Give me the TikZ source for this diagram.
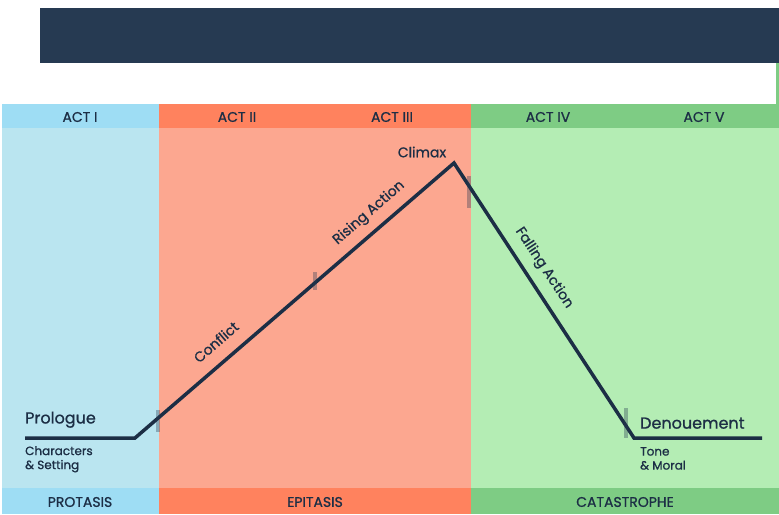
\documentclass[tikz,border=0pt]{standalone}
\usepackage{fontspec}
\setmainfont{Poppins}[UprightFeatures={FakeBold=0.9}]
\definecolor{navy}{HTML}{263A52}
\definecolor{ink}{HTML}{1C2E45}
\definecolor{blueHead}{HTML}{9EDDF4}
\definecolor{blueBody}{HTML}{BAE5F0}
\definecolor{redHead}{HTML}{FF825E}
\definecolor{redBody}{HTML}{FCA790}
\definecolor{greenHead}{HTML}{7ECC84}
\definecolor{greenBody}{HTML}{B4EDB4}
\tikzset{
  headtext/.style={text=ink, font=\fontsize{14}{14}\selectfont},
  labeltext/.style={text=ink, font=\fontsize{16}{16}\selectfont},
  slanttext/.style={text=ink, font=\fontsize{14}{14}\selectfont},
  smalltext/.style={text=ink, align=left, font=\fontsize{12}{14}\selectfont},
  marker/.style={fill=navy, opacity=0.35},
}
\begin{document}
\begin{tikzpicture}[x=1pt,y=-1pt]
	\useasboundingbox (0,0) rectangle (779,514);
	% Title bar
	\fill[navy] (40,8) rectangle (779,63);
	\fill[greenHead] (776,63) rectangle (779,104);
	
	% Columns
	\fill[blueBody] (2,104) rectangle (159,514);
	\fill[redBody] (159,104) rectangle (471,514);
	\fill[greenBody] (471,104) rectangle (779,514);
	
	% Act header row
	\fill[blueHead] (2,104) rectangle (159,128);
	\fill[redHead] (159,104) rectangle (471,128);
	\fill[greenHead] (471,104) rectangle (779,128);
	\node[headtext] (act1) at (80,117) {ACT I};
	\node[headtext] (act2) at (237,117) {ACT II};
	\node[headtext] (act3) at (392,117) {ACT III};
	\node[headtext] (act4) at (548,117) {ACT IV};
	\node[headtext] (act5) at (704,117) {ACT V};
	
	% Bottom band
	\fill[blueHead] (2,488) rectangle (159,514);
	\fill[redHead] (159,488) rectangle (471,514);
	\fill[greenHead] (471,488) rectangle (779,514);
	\node[headtext] (protasis) at (80,502) {PROTASIS};
	\node[headtext] (epitasis) at (315,502) {EPITASIS};
	\node[headtext] (catastrophe) at (625,502) {CATASTROPHE};
	
	% Plot line
	\coordinate (start) at (25,438);
	\coordinate (bend1) at (135,438);
	\coordinate (peak) at (454,163);
	\coordinate (bend2) at (634,438);
	\coordinate (finish) at (762,438);
	\draw[ink, line width=3.5pt, line join=miter] (start) -- (bend1) -- (peak) -- (bend2) -- (finish);
	
	% Markers on the line
	\fill[marker] (156,410) rectangle (160,432);
	\fill[marker] (313,272) rectangle (317,290);
	\fill[marker] (467,176) rectangle (471,208);
	\fill[marker] (624,408) rectangle (628,438);
	
	% Labels
	\node[labeltext, anchor=south west, inner sep=0pt] (prologue) at (25,428) {Prologue};
	\node[smalltext, anchor=north west, inner sep=0pt] (setting) at (25,446) {Characters\\\& Setting};
	\node[labeltext, anchor=south west, inner sep=0pt] (denouement) at (640,429) {Denouement};
	\node[smalltext, anchor=north west, inner sep=0pt] (moral) at (640,447) {Tone\\\& Moral};
	\node[slanttext] (climax) at (422,152) {Climax};
	\node[slanttext, rotate=41] (conflict) at (216,342) {Conflict};
	\node[slanttext, rotate=41] (rising) at (369,213) {Rising Action};
	\node[slanttext, rotate=-56.6] (falling) at (544,268) {Falling Action};
\end{tikzpicture}
\end{document}
